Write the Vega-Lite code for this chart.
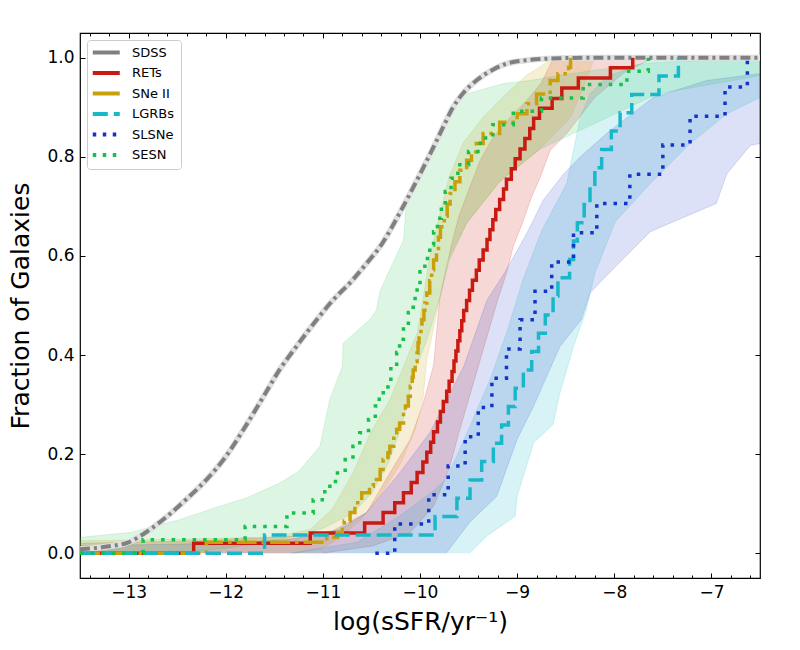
{
  "$schema": "https://vega.github.io/schema/vega-lite/v6.json",
  "width": 680,
  "height": 545,
  "autosize": {"type": "none"},
  "padding": {"left": 80, "top": 33, "right": 40, "bottom": 72},
  "config": {
    "font": "DejaVu Sans",
    "view": {"stroke": "black", "strokeWidth": 1.2},
    "axis": {
      "labelFont": "DejaVu Sans", "labelFontSize": 17, "labelColor": "black",
      "titleFont": "DejaVu Sans", "titleFontSize": 25, "titleFontWeight": "normal", "titleColor": "black",
      "tickColor": "black", "tickWidth": 1, "grid": false, "domain": false
    },
    "legend": {
      "orient": "top-left", "offset": 7, "padding": 6,
      "strokeColor": "#cccccc", "fillColor": "white", "cornerRadius": 3,
      "labelFont": "DejaVu Sans", "labelFontSize": 13, "labelColor": "black",
      "symbolType": "M-1.5,0H4.5", "symbolSize": 81, "symbolStrokeWidth": 4,
      "rowPadding": 3.5, "labelOffset": 26
    }
  },
  "datasets": {
    "curves": [
      {"series": "SDSS", "x": -13.5, "y": 0.008}, {"series": "SDSS", "x": -13.2, "y": 0.014},
      {"series": "SDSS", "x": -13.0, "y": 0.022}, {"series": "SDSS", "x": -12.8, "y": 0.045},
      {"series": "SDSS", "x": -12.6, "y": 0.075}, {"series": "SDSS", "x": -12.4, "y": 0.11},
      {"series": "SDSS", "x": -12.2, "y": 0.148}, {"series": "SDSS", "x": -12.0, "y": 0.195},
      {"series": "SDSS", "x": -11.8, "y": 0.255}, {"series": "SDSS", "x": -11.6, "y": 0.32},
      {"series": "SDSS", "x": -11.44, "y": 0.372}, {"series": "SDSS", "x": -11.3, "y": 0.41},
      {"series": "SDSS", "x": -11.1, "y": 0.462}, {"series": "SDSS", "x": -10.9, "y": 0.51},
      {"series": "SDSS", "x": -10.7, "y": 0.55}, {"series": "SDSS", "x": -10.55, "y": 0.585},
      {"series": "SDSS", "x": -10.4, "y": 0.622}, {"series": "SDSS", "x": -10.2, "y": 0.69},
      {"series": "SDSS", "x": -10.0, "y": 0.765}, {"series": "SDSS", "x": -9.86, "y": 0.82},
      {"series": "SDSS", "x": -9.75, "y": 0.865}, {"series": "SDSS", "x": -9.66, "y": 0.9},
      {"series": "SDSS", "x": -9.55, "y": 0.93}, {"series": "SDSS", "x": -9.42, "y": 0.954},
      {"series": "SDSS", "x": -9.25, "y": 0.976}, {"series": "SDSS", "x": -9.11, "y": 0.988},
      {"series": "SDSS", "x": -8.9, "y": 0.995}, {"series": "SDSS", "x": -8.7, "y": 0.998},
      {"series": "SDSS", "x": -8.3, "y": 1.0}, {"series": "SDSS", "x": -6.5, "y": 1.0},

      {"series": "RETs", "x": -13.5, "y": 0}, {"series": "RETs", "x": -12.33, "y": 0.020},
      {"series": "RETs", "x": -11.13, "y": 0.041}, {"series": "RETs", "x": -10.57, "y": 0.061},
      {"series": "RETs", "x": -10.38, "y": 0.082}, {"series": "RETs", "x": -10.26, "y": 0.102},
      {"series": "RETs", "x": -10.17, "y": 0.122}, {"series": "RETs", "x": -10.09, "y": 0.143},
      {"series": "RETs", "x": -10.03, "y": 0.163}, {"series": "RETs", "x": -9.97, "y": 0.184},
      {"series": "RETs", "x": -9.93, "y": 0.204}, {"series": "RETs", "x": -9.89, "y": 0.224},
      {"series": "RETs", "x": -9.86, "y": 0.245}, {"series": "RETs", "x": -9.82, "y": 0.265},
      {"series": "RETs", "x": -9.79, "y": 0.286}, {"series": "RETs", "x": -9.76, "y": 0.306},
      {"series": "RETs", "x": -9.725, "y": 0.327}, {"series": "RETs", "x": -9.7, "y": 0.347},
      {"series": "RETs", "x": -9.67, "y": 0.367}, {"series": "RETs", "x": -9.65, "y": 0.388},
      {"series": "RETs", "x": -9.63, "y": 0.408}, {"series": "RETs", "x": -9.61, "y": 0.429},
      {"series": "RETs", "x": -9.59, "y": 0.449}, {"series": "RETs", "x": -9.57, "y": 0.469},
      {"series": "RETs", "x": -9.55, "y": 0.49}, {"series": "RETs", "x": -9.52, "y": 0.51},
      {"series": "RETs", "x": -9.49, "y": 0.531}, {"series": "RETs", "x": -9.46, "y": 0.551},
      {"series": "RETs", "x": -9.42, "y": 0.571}, {"series": "RETs", "x": -9.39, "y": 0.592},
      {"series": "RETs", "x": -9.35, "y": 0.612}, {"series": "RETs", "x": -9.31, "y": 0.633},
      {"series": "RETs", "x": -9.28, "y": 0.653}, {"series": "RETs", "x": -9.25, "y": 0.673},
      {"series": "RETs", "x": -9.22, "y": 0.694}, {"series": "RETs", "x": -9.18, "y": 0.714},
      {"series": "RETs", "x": -9.14, "y": 0.735}, {"series": "RETs", "x": -9.11, "y": 0.755},
      {"series": "RETs", "x": -9.06, "y": 0.776}, {"series": "RETs", "x": -9.02, "y": 0.796},
      {"series": "RETs", "x": -8.97, "y": 0.816}, {"series": "RETs", "x": -8.92, "y": 0.837},
      {"series": "RETs", "x": -8.87, "y": 0.857}, {"series": "RETs", "x": -8.83, "y": 0.878},
      {"series": "RETs", "x": -8.77, "y": 0.898}, {"series": "RETs", "x": -8.64, "y": 0.918},
      {"series": "RETs", "x": -8.54, "y": 0.939}, {"series": "RETs", "x": -8.37, "y": 0.959},
      {"series": "RETs", "x": -8.04, "y": 0.98}, {"series": "RETs", "x": -7.81, "y": 1.0},

      {"series": "SNe II", "x": -13.5, "y": 0}, {"series": "SNe II", "x": -12.2, "y": 0.022},
      {"series": "SNe II", "x": -10.96, "y": 0.032}, {"series": "SNe II", "x": -10.85, "y": 0.042},
      {"series": "SNe II", "x": -10.8, "y": 0.055}, {"series": "SNe II", "x": -10.78, "y": 0.065},
      {"series": "SNe II", "x": -10.72, "y": 0.082}, {"series": "SNe II", "x": -10.67, "y": 0.102},
      {"series": "SNe II", "x": -10.6, "y": 0.122}, {"series": "SNe II", "x": -10.52, "y": 0.135},
      {"series": "SNe II", "x": -10.48, "y": 0.149}, {"series": "SNe II", "x": -10.41, "y": 0.169},
      {"series": "SNe II", "x": -10.38, "y": 0.189}, {"series": "SNe II", "x": -10.33, "y": 0.203},
      {"series": "SNe II", "x": -10.31, "y": 0.216}, {"series": "SNe II", "x": -10.27, "y": 0.236},
      {"series": "SNe II", "x": -10.24, "y": 0.25}, {"series": "SNe II", "x": -10.21, "y": 0.263},
      {"series": "SNe II", "x": -10.17, "y": 0.28}, {"series": "SNe II", "x": -10.15, "y": 0.297},
      {"series": "SNe II", "x": -10.12, "y": 0.317}, {"series": "SNe II", "x": -10.1, "y": 0.337},
      {"series": "SNe II", "x": -10.08, "y": 0.355}, {"series": "SNe II", "x": -10.07, "y": 0.37},
      {"series": "SNe II", "x": -10.05, "y": 0.387}, {"series": "SNe II", "x": -10.03, "y": 0.404},
      {"series": "SNe II", "x": -10.02, "y": 0.425}, {"series": "SNe II", "x": -10.01, "y": 0.444},
      {"series": "SNe II", "x": -9.99, "y": 0.458}, {"series": "SNe II", "x": -9.98, "y": 0.471},
      {"series": "SNe II", "x": -9.96, "y": 0.49}, {"series": "SNe II", "x": -9.95, "y": 0.505},
      {"series": "SNe II", "x": -9.93, "y": 0.525}, {"series": "SNe II", "x": -9.9, "y": 0.55},
      {"series": "SNe II", "x": -9.88, "y": 0.572}, {"series": "SNe II", "x": -9.86, "y": 0.592},
      {"series": "SNe II", "x": -9.83, "y": 0.615}, {"series": "SNe II", "x": -9.81, "y": 0.638},
      {"series": "SNe II", "x": -9.79, "y": 0.659}, {"series": "SNe II", "x": -9.75, "y": 0.68},
      {"series": "SNe II", "x": -9.72, "y": 0.705}, {"series": "SNe II", "x": -9.69, "y": 0.726},
      {"series": "SNe II", "x": -9.64, "y": 0.75}, {"series": "SNe II", "x": -9.59, "y": 0.773},
      {"series": "SNe II", "x": -9.52, "y": 0.793}, {"series": "SNe II", "x": -9.47, "y": 0.81},
      {"series": "SNe II", "x": -9.42, "y": 0.827}, {"series": "SNe II", "x": -9.35, "y": 0.847},
      {"series": "SNe II", "x": -9.18, "y": 0.87}, {"series": "SNe II", "x": -9.0, "y": 0.887},
      {"series": "SNe II", "x": -8.9, "y": 0.907}, {"series": "SNe II", "x": -8.8, "y": 0.927},
      {"series": "SNe II", "x": -8.66, "y": 0.954}, {"series": "SNe II", "x": -8.58, "y": 0.968},
      {"series": "SNe II", "x": -8.47, "y": 0.981}, {"series": "SNe II", "x": -8.45, "y": 1.0},

      {"series": "LGRBs", "x": -13.5, "y": 0}, {"series": "LGRBs", "x": -11.6, "y": 0.037},
      {"series": "LGRBs", "x": -9.845, "y": 0.074}, {"series": "LGRBs", "x": -9.62, "y": 0.111},
      {"series": "LGRBs", "x": -9.485, "y": 0.148}, {"series": "LGRBs", "x": -9.365, "y": 0.185},
      {"series": "LGRBs", "x": -9.245, "y": 0.222}, {"series": "LGRBs", "x": -9.16, "y": 0.259},
      {"series": "LGRBs", "x": -9.09, "y": 0.296}, {"series": "LGRBs", "x": -9.02, "y": 0.333},
      {"series": "LGRBs", "x": -8.936, "y": 0.37}, {"series": "LGRBs", "x": -8.85, "y": 0.407},
      {"series": "LGRBs", "x": -8.78, "y": 0.444}, {"series": "LGRBs", "x": -8.71, "y": 0.481},
      {"series": "LGRBs", "x": -8.63, "y": 0.519}, {"series": "LGRBs", "x": -8.58, "y": 0.556},
      {"series": "LGRBs", "x": -8.46, "y": 0.593}, {"series": "LGRBs", "x": -8.42, "y": 0.63},
      {"series": "LGRBs", "x": -8.38, "y": 0.667}, {"series": "LGRBs", "x": -8.31, "y": 0.704},
      {"series": "LGRBs", "x": -8.25, "y": 0.741}, {"series": "LGRBs", "x": -8.2, "y": 0.778},
      {"series": "LGRBs", "x": -8.13, "y": 0.815}, {"series": "LGRBs", "x": -8.03, "y": 0.852},
      {"series": "LGRBs", "x": -7.94, "y": 0.889}, {"series": "LGRBs", "x": -7.82, "y": 0.926},
      {"series": "LGRBs", "x": -7.54, "y": 0.963}, {"series": "LGRBs", "x": -7.34, "y": 1.0},

      {"series": "SLSNe", "x": -10.46, "y": 0}, {"series": "SLSNe", "x": -10.26, "y": 0.059},
      {"series": "SLSNe", "x": -9.91, "y": 0.118}, {"series": "SLSNe", "x": -9.71, "y": 0.176},
      {"series": "SLSNe", "x": -9.535, "y": 0.235}, {"series": "SLSNe", "x": -9.4, "y": 0.294},
      {"series": "SLSNe", "x": -9.26, "y": 0.353}, {"series": "SLSNe", "x": -9.11, "y": 0.412},
      {"series": "SLSNe", "x": -8.97, "y": 0.471}, {"series": "SLSNe", "x": -8.816, "y": 0.529},
      {"series": "SLSNe", "x": -8.644, "y": 0.588}, {"series": "SLSNe", "x": -8.42, "y": 0.647},
      {"series": "SLSNe", "x": -8.18, "y": 0.706}, {"series": "SLSNe", "x": -7.84, "y": 0.765},
      {"series": "SLSNe", "x": -7.5, "y": 0.824}, {"series": "SLSNe", "x": -7.22, "y": 0.882},
      {"series": "SLSNe", "x": -6.86, "y": 0.941}, {"series": "SLSNe", "x": -6.63, "y": 1.0},

      {"series": "SESN", "x": -13.5, "y": 0}, {"series": "SESN", "x": -12.85, "y": 0.027},
      {"series": "SESN", "x": -11.8, "y": 0.054}, {"series": "SESN", "x": -11.37, "y": 0.081},
      {"series": "SESN", "x": -11.1, "y": 0.108}, {"series": "SESN", "x": -10.98, "y": 0.135},
      {"series": "SESN", "x": -10.87, "y": 0.162}, {"series": "SESN", "x": -10.77, "y": 0.189},
      {"series": "SESN", "x": -10.69, "y": 0.216}, {"series": "SESN", "x": -10.62, "y": 0.243},
      {"series": "SESN", "x": -10.53, "y": 0.27}, {"series": "SESN", "x": -10.46, "y": 0.297},
      {"series": "SESN", "x": -10.42, "y": 0.324}, {"series": "SESN", "x": -10.33, "y": 0.351},
      {"series": "SESN", "x": -10.3, "y": 0.378}, {"series": "SESN", "x": -10.24, "y": 0.405},
      {"series": "SESN", "x": -10.21, "y": 0.432}, {"series": "SESN", "x": -10.17, "y": 0.459},
      {"series": "SESN", "x": -10.12, "y": 0.486}, {"series": "SESN", "x": -10.07, "y": 0.514},
      {"series": "SESN", "x": -10.03, "y": 0.541}, {"series": "SESN", "x": -10.0, "y": 0.568},
      {"series": "SESN", "x": -9.95, "y": 0.595}, {"series": "SESN", "x": -9.9, "y": 0.622},
      {"series": "SESN", "x": -9.86, "y": 0.649}, {"series": "SESN", "x": -9.82, "y": 0.676},
      {"series": "SESN", "x": -9.78, "y": 0.703}, {"series": "SESN", "x": -9.74, "y": 0.73},
      {"series": "SESN", "x": -9.68, "y": 0.757}, {"series": "SESN", "x": -9.61, "y": 0.784},
      {"series": "SESN", "x": -9.5, "y": 0.811}, {"series": "SESN", "x": -9.38, "y": 0.838},
      {"series": "SESN", "x": -9.25, "y": 0.865}, {"series": "SESN", "x": -9.04, "y": 0.892},
      {"series": "SESN", "x": -8.75, "y": 0.919}, {"series": "SESN", "x": -8.32, "y": 0.946},
      {"series": "SESN", "x": -7.87, "y": 0.973}, {"series": "SESN", "x": -7.65, "y": 1.0}
    ],
    "bands": [
      {"series": "RETs", "x": -13.5, "y": 0.0}, {"series": "RETs", "x": -13.5, "y": 0.02},
      {"series": "RETs", "x": -12.3, "y": 0.025}, {"series": "RETs", "x": -11.2, "y": 0.035},
      {"series": "RETs", "x": -10.82, "y": 0.048}, {"series": "RETs", "x": -10.55, "y": 0.082},
      {"series": "RETs", "x": -10.31, "y": 0.162}, {"series": "RETs", "x": -10.1, "y": 0.23},
      {"series": "RETs", "x": -9.97, "y": 0.3}, {"series": "RETs", "x": -9.86, "y": 0.38},
      {"series": "RETs", "x": -9.8, "y": 0.51}, {"series": "RETs", "x": -9.68, "y": 0.62},
      {"series": "RETs", "x": -9.6, "y": 0.68}, {"series": "RETs", "x": -9.485, "y": 0.74},
      {"series": "RETs", "x": -9.38, "y": 0.793}, {"series": "RETs", "x": -9.245, "y": 0.84},
      {"series": "RETs", "x": -9.07, "y": 0.88}, {"series": "RETs", "x": -8.9, "y": 0.914},
      {"series": "RETs", "x": -8.75, "y": 0.95}, {"series": "RETs", "x": -8.65, "y": 0.99},
      {"series": "RETs", "x": -8.6, "y": 1.0}, {"series": "RETs", "x": -7.6, "y": 1.0},
      {"series": "RETs", "x": -7.9, "y": 0.97}, {"series": "RETs", "x": -8.2, "y": 0.92},
      {"series": "RETs", "x": -8.49, "y": 0.847}, {"series": "RETs", "x": -8.66, "y": 0.813},
      {"series": "RETs", "x": -8.76, "y": 0.76}, {"series": "RETs", "x": -8.85, "y": 0.72},
      {"series": "RETs", "x": -8.935, "y": 0.672}, {"series": "RETs", "x": -9.04, "y": 0.619},
      {"series": "RETs", "x": -9.11, "y": 0.565}, {"series": "RETs", "x": -9.2, "y": 0.511},
      {"series": "RETs", "x": -9.3, "y": 0.444}, {"series": "RETs", "x": -9.4, "y": 0.377},
      {"series": "RETs", "x": -9.5, "y": 0.31}, {"series": "RETs", "x": -9.6, "y": 0.243},
      {"series": "RETs", "x": -9.7, "y": 0.17}, {"series": "RETs", "x": -9.86, "y": 0.095},
      {"series": "RETs", "x": -10.1, "y": 0.042}, {"series": "RETs", "x": -10.48, "y": 0.015},
      {"series": "RETs", "x": -11.0, "y": 0.0},

      {"series": "SNe II", "x": -13.5, "y": 0.0}, {"series": "SNe II", "x": -13.5, "y": 0.025},
      {"series": "SNe II", "x": -12.5, "y": 0.028}, {"series": "SNe II", "x": -11.5, "y": 0.033},
      {"series": "SNe II", "x": -11.13, "y": 0.048}, {"series": "SNe II", "x": -10.9, "y": 0.09},
      {"series": "SNe II", "x": -10.69, "y": 0.162}, {"series": "SNe II", "x": -10.51, "y": 0.243},
      {"series": "SNe II", "x": -10.31, "y": 0.31}, {"series": "SNe II", "x": -10.17, "y": 0.377},
      {"series": "SNe II", "x": -10.03, "y": 0.444}, {"series": "SNe II", "x": -9.97, "y": 0.511},
      {"series": "SNe II", "x": -9.9, "y": 0.6}, {"series": "SNe II", "x": -9.8, "y": 0.68},
      {"series": "SNe II", "x": -9.7, "y": 0.76}, {"series": "SNe II", "x": -9.55, "y": 0.83},
      {"series": "SNe II", "x": -9.35, "y": 0.88}, {"series": "SNe II", "x": -9.1, "y": 0.93},
      {"series": "SNe II", "x": -8.9, "y": 0.965}, {"series": "SNe II", "x": -8.7, "y": 0.99},
      {"series": "SNe II", "x": -8.5, "y": 1.0}, {"series": "SNe II", "x": -8.2, "y": 1.0},
      {"series": "SNe II", "x": -8.3, "y": 0.95}, {"series": "SNe II", "x": -8.45, "y": 0.88},
      {"series": "SNe II", "x": -8.77, "y": 0.815}, {"series": "SNe II", "x": -9.18, "y": 0.75},
      {"series": "SNe II", "x": -9.52, "y": 0.666}, {"series": "SNe II", "x": -9.72, "y": 0.59},
      {"series": "SNe II", "x": -9.8, "y": 0.51}, {"series": "SNe II", "x": -9.93, "y": 0.39},
      {"series": "SNe II", "x": -9.97, "y": 0.31}, {"series": "SNe II", "x": -10.05, "y": 0.25},
      {"series": "SNe II", "x": -10.2, "y": 0.18}, {"series": "SNe II", "x": -10.4, "y": 0.12},
      {"series": "SNe II", "x": -10.6, "y": 0.07}, {"series": "SNe II", "x": -10.8, "y": 0.035},
      {"series": "SNe II", "x": -11.0, "y": 0.01}, {"series": "SNe II", "x": -11.3, "y": 0.0},

      {"series": "LGRBs", "x": -11.34, "y": 0.0}, {"series": "LGRBs", "x": -10.65, "y": 0.022},
      {"series": "LGRBs", "x": -10.21, "y": 0.075}, {"series": "LGRBs", "x": -9.9, "y": 0.12},
      {"series": "LGRBs", "x": -9.73, "y": 0.149}, {"series": "LGRBs", "x": -9.5, "y": 0.25},
      {"series": "LGRBs", "x": -9.28, "y": 0.35}, {"series": "LGRBs", "x": -9.1, "y": 0.45},
      {"series": "LGRBs", "x": -8.94, "y": 0.552}, {"series": "LGRBs", "x": -8.75, "y": 0.65},
      {"series": "LGRBs", "x": -8.49, "y": 0.746}, {"series": "LGRBs", "x": -8.42, "y": 0.813},
      {"series": "LGRBs", "x": -8.35, "y": 0.88}, {"series": "LGRBs", "x": -8.25, "y": 0.927},
      {"series": "LGRBs", "x": -8.08, "y": 0.961}, {"series": "LGRBs", "x": -7.63, "y": 0.995},
      {"series": "LGRBs", "x": -7.5, "y": 1.0}, {"series": "LGRBs", "x": -6.5, "y": 1.0},
      {"series": "LGRBs", "x": -6.5, "y": 0.92}, {"series": "LGRBs", "x": -6.84, "y": 0.887},
      {"series": "LGRBs", "x": -7.22, "y": 0.827}, {"series": "LGRBs", "x": -7.63, "y": 0.746},
      {"series": "LGRBs", "x": -7.99, "y": 0.669}, {"series": "LGRBs", "x": -8.2, "y": 0.565},
      {"series": "LGRBs", "x": -8.29, "y": 0.49}, {"series": "LGRBs", "x": -8.42, "y": 0.417},
      {"series": "LGRBs", "x": -8.56, "y": 0.323}, {"series": "LGRBs", "x": -8.63, "y": 0.26},
      {"series": "LGRBs", "x": -8.83, "y": 0.223}, {"series": "LGRBs", "x": -9.0, "y": 0.115},
      {"series": "LGRBs", "x": -9.02, "y": 0.075}, {"series": "LGRBs", "x": -9.31, "y": 0.035},
      {"series": "LGRBs", "x": -9.49, "y": 0.0},

      {"series": "SLSNe", "x": -13.5, "y": 0.0}, {"series": "SLSNe", "x": -13.5, "y": 0.015},
      {"series": "SLSNe", "x": -12.0, "y": 0.02}, {"series": "SLSNe", "x": -11.34, "y": 0.028},
      {"series": "SLSNe", "x": -10.93, "y": 0.042}, {"series": "SLSNe", "x": -10.55, "y": 0.082},
      {"series": "SLSNe", "x": -10.21, "y": 0.162}, {"series": "SLSNe", "x": -9.9, "y": 0.243},
      {"series": "SLSNe", "x": -9.55, "y": 0.377}, {"series": "SLSNe", "x": -9.31, "y": 0.511},
      {"series": "SLSNe", "x": -9.11, "y": 0.572}, {"series": "SLSNe", "x": -8.9, "y": 0.646},
      {"series": "SLSNe", "x": -8.73, "y": 0.713}, {"series": "SLSNe", "x": -8.52, "y": 0.766},
      {"series": "SLSNe", "x": -8.35, "y": 0.8}, {"series": "SLSNe", "x": -8.08, "y": 0.847},
      {"series": "SLSNe", "x": -7.6, "y": 0.92}, {"series": "SLSNe", "x": -7.05, "y": 0.954},
      {"series": "SLSNe", "x": -6.5, "y": 0.968}, {"series": "SLSNe", "x": -6.5, "y": 0.827},
      {"series": "SLSNe", "x": -6.6, "y": 0.823}, {"series": "SLSNe", "x": -6.84, "y": 0.766},
      {"series": "SLSNe", "x": -6.95, "y": 0.706}, {"series": "SLSNe", "x": -7.63, "y": 0.649},
      {"series": "SLSNe", "x": -8.08, "y": 0.56}, {"series": "SLSNe", "x": -8.25, "y": 0.525},
      {"series": "SLSNe", "x": -8.34, "y": 0.471}, {"series": "SLSNe", "x": -8.56, "y": 0.417},
      {"series": "SLSNe", "x": -8.83, "y": 0.297}, {"series": "SLSNe", "x": -9.0, "y": 0.23},
      {"series": "SLSNe", "x": -9.21, "y": 0.115}, {"series": "SLSNe", "x": -9.49, "y": 0.062},
      {"series": "SLSNe", "x": -9.73, "y": 0.0},

      {"series": "SESN", "x": -13.5, "y": 0.0}, {"series": "SESN", "x": -13.5, "y": 0.032},
      {"series": "SESN", "x": -12.98, "y": 0.042}, {"series": "SESN", "x": -12.47, "y": 0.068},
      {"series": "SESN", "x": -12.06, "y": 0.095}, {"series": "SESN", "x": -11.78, "y": 0.112},
      {"series": "SESN", "x": -11.44, "y": 0.142}, {"series": "SESN", "x": -11.25, "y": 0.165},
      {"series": "SESN", "x": -11.03, "y": 0.216}, {"series": "SESN", "x": -10.93, "y": 0.31},
      {"series": "SESN", "x": -10.8, "y": 0.377}, {"series": "SESN", "x": -10.79, "y": 0.424},
      {"series": "SESN", "x": -10.52, "y": 0.471}, {"series": "SESN", "x": -10.45, "y": 0.49},
      {"series": "SESN", "x": -10.41, "y": 0.53}, {"series": "SESN", "x": -10.17, "y": 0.632},
      {"series": "SESN", "x": -10.14, "y": 0.706}, {"series": "SESN", "x": -10.0, "y": 0.76},
      {"series": "SESN", "x": -9.79, "y": 0.847}, {"series": "SESN", "x": -9.62, "y": 0.907},
      {"series": "SESN", "x": -9.52, "y": 0.927}, {"series": "SESN", "x": -9.14, "y": 0.948},
      {"series": "SESN", "x": -8.87, "y": 0.954}, {"series": "SESN", "x": -8.66, "y": 0.961},
      {"series": "SESN", "x": -8.2, "y": 0.975}, {"series": "SESN", "x": -7.6, "y": 0.99},
      {"series": "SESN", "x": -6.5, "y": 1.0}, {"series": "SESN", "x": -6.5, "y": 0.964},
      {"series": "SESN", "x": -7.56, "y": 0.927}, {"series": "SESN", "x": -8.01, "y": 0.885},
      {"series": "SESN", "x": -8.39, "y": 0.85}, {"series": "SESN", "x": -8.77, "y": 0.815},
      {"series": "SESN", "x": -9.18, "y": 0.75}, {"series": "SESN", "x": -9.52, "y": 0.666},
      {"series": "SESN", "x": -9.7, "y": 0.59}, {"series": "SESN", "x": -9.82, "y": 0.5},
      {"series": "SESN", "x": -9.93, "y": 0.43}, {"series": "SESN", "x": -10.07, "y": 0.36},
      {"series": "SESN", "x": -10.12, "y": 0.31}, {"series": "SESN", "x": -10.2, "y": 0.25},
      {"series": "SESN", "x": -10.33, "y": 0.18}, {"series": "SESN", "x": -10.5, "y": 0.12},
      {"series": "SESN", "x": -10.7, "y": 0.08}, {"series": "SESN", "x": -11.0, "y": 0.05},
      {"series": "SESN", "x": -11.5, "y": 0.025}, {"series": "SESN", "x": -12.0, "y": 0.01},
      {"series": "SESN", "x": -12.5, "y": 0.0}
    ]
  },
  "resolve": {"axis": {"x": "independent", "y": "independent"}},
  "layer": [
    {
      "data": {"name": "bands"},
      "transform": [{"filter": "datum.series === 'RETs'"}],
      "mark": {"type": "line", "fill": "#c81a10", "fillOpacity": 0.17, "stroke": "#c81a10", "strokeOpacity": 0.17, "strokeWidth": 1, "clip": true},
      "encoding": {
        "x": {"field": "x", "type": "quantitative", "scale": {"domain": [-13.5, -6.5], "nice": false, "zero": false},
              "axis": {"orient": "top", "values": [-13, -12, -11, -10, -9, -8, -7], "labels": false, "tickSize": -5, "title": null}},
        "y": {"field": "y", "type": "quantitative", "scale": {"domain": [-0.05, 1.05], "nice": false, "zero": false}, "axis": null},
        "order": {"value": null}
      }
    },
    {
      "data": {"name": "bands"},
      "transform": [{"filter": "datum.series === 'SNe II'"}],
      "mark": {"type": "line", "fill": "#c9a00c", "fillOpacity": 0.17, "stroke": "#c9a00c", "strokeOpacity": 0.17, "strokeWidth": 1, "clip": true},
      "encoding": {
        "x": {"field": "x", "type": "quantitative",
              "axis": {"orient": "bottom", "values": [-13.4, -13.2, -12.8, -12.6, -12.4, -12.2, -11.8, -11.6, -11.4, -11.2, -10.8, -10.6, -10.4, -10.2, -9.8, -9.6, -9.4, -9.2, -8.8, -8.6, -8.4, -8.2, -7.8, -7.6, -7.4, -7.2, -6.8, -6.6], "labels": false, "tickSize": -3, "title": null}},
        "y": {"field": "y", "type": "quantitative",
              "axis": {"orient": "right", "values": [0, 0.2, 0.4, 0.6, 0.8, 1], "labels": false, "tickSize": -5, "title": null}},
        "order": {"value": null}
      }
    },
    {
      "data": {"name": "bands"},
      "transform": [{"filter": "datum.series === 'LGRBs'"}],
      "mark": {"type": "line", "fill": "#18b8c8", "fillOpacity": 0.17, "stroke": "#18b8c8", "strokeOpacity": 0.17, "strokeWidth": 1, "clip": true},
      "encoding": {
        "x": {"field": "x", "type": "quantitative",
              "axis": {"orient": "top", "values": [-13.4, -13.2, -12.8, -12.6, -12.4, -12.2, -11.8, -11.6, -11.4, -11.2, -10.8, -10.6, -10.4, -10.2, -9.8, -9.6, -9.4, -9.2, -8.8, -8.6, -8.4, -8.2, -7.8, -7.6, -7.4, -7.2, -6.8, -6.6], "labels": false, "tickSize": -3, "title": null}},
        "y": {"field": "y", "type": "quantitative", "axis": null},
        "order": {"value": null}
      }
    },
    {
      "data": {"name": "bands"},
      "transform": [{"filter": "datum.series === 'SLSNe'"}],
      "mark": {"type": "line", "fill": "#1234c8", "fillOpacity": 0.15, "stroke": "#1234c8", "strokeOpacity": 0.15, "strokeWidth": 1, "clip": true},
      "encoding": {
        "x": {"field": "x", "type": "quantitative", "axis": null},
        "y": {"field": "y", "type": "quantitative", "axis": null},
        "order": {"value": null}
      }
    },
    {
      "data": {"name": "bands"},
      "transform": [{"filter": "datum.series === 'SESN'"}],
      "mark": {"type": "line", "fill": "#18c048", "fillOpacity": 0.15, "stroke": "#18c048", "strokeOpacity": 0.15, "strokeWidth": 1, "clip": true},
      "encoding": {
        "x": {"field": "x", "type": "quantitative",
              "axis": {"orient": "bottom", "values": [-13, -12, -11, -10, -9, -8, -7], "format": "d", "tickSize": -5, "labelPadding": 11, "title": "log(sSFR/yr⁻¹)", "titlePadding": 9}},
        "y": {"field": "y", "type": "quantitative",
              "axis": {"orient": "left", "values": [0, 0.2, 0.4, 0.6, 0.8, 1], "format": ".1f", "tickSize": -5, "labelPadding": 11, "title": "Fraction of Galaxies", "titlePadding": 13}},
        "order": {"value": null}
      }
    },
    {
      "data": {"name": "curves"},
      "transform": [{"filter": "datum.series === 'SDSS'"}],
      "mark": {"type": "line", "stroke": "#e0e0e0", "strokeWidth": 6, "interpolate": "monotone", "clip": true},
      "encoding": {
        "x": {"field": "x", "type": "quantitative", "axis": null},
        "y": {"field": "y", "type": "quantitative", "axis": null}
      }
    },
    {
      "data": {"name": "curves"},
      "transform": [{"filter": "datum.series === 'SDSS'"}],
      "mark": {"type": "line", "strokeWidth": 4, "strokeDash": [10, 4, 3, 4], "interpolate": "monotone", "clip": true},
      "encoding": {
        "x": {"field": "x", "type": "quantitative", "axis": null},
        "y": {"field": "y", "type": "quantitative", "axis": null},
        "color": {
          "field": "series", "type": "nominal",
          "scale": {"domain": ["SDSS", "RETs", "SNe II", "LGRBs", "SLSNe", "SESN"], "range": ["#808080", "#c81a10", "#c9a00c", "#18b8c8", "#1234c8", "#18c048"]},
          "legend": {
            "title": null, "labelFontSize": 13,
            "encode": {"symbols": {"update": {"strokeDash": {"signal": "datum.value === 'LGRBs' ? [15, 6] : (datum.value === 'SLSNe' || datum.value === 'SESN') ? [3.5, 6.5] : [100, 0]"}, "strokeWidth": {"value": 4}}}}
          }
        }
      }
    },
    {
      "data": {"name": "curves"},
      "transform": [{"filter": "datum.series !== 'SDSS'"}],
      "mark": {"type": "line", "strokeWidth": 3.5, "interpolate": "step-after", "clip": true},
      "encoding": {
        "x": {"field": "x", "type": "quantitative", "axis": null},
        "y": {"field": "y", "type": "quantitative", "axis": null},
        "color": {
          "field": "series", "type": "nominal",
          "scale": {"domain": ["SDSS", "RETs", "SNe II", "LGRBs", "SLSNe", "SESN"], "range": ["#808080", "#c81a10", "#c9a00c", "#18b8c8", "#1234c8", "#18c048"]},
          "legend": {
            "title": null, "labelFontSize": 13,
            "encode": {"symbols": {"update": {"strokeDash": {"signal": "datum.value === 'LGRBs' ? [15, 6] : (datum.value === 'SLSNe' || datum.value === 'SESN') ? [3.5, 6.5] : [100, 0]"}, "strokeWidth": {"value": 4}}}}
          }
        },
        "strokeDash": {
          "field": "series", "type": "nominal",
          "scale": {"domain": ["RETs", "SNe II", "LGRBs", "SLSNe", "SESN"], "range": [[100, 0], [20, 5, 3.5, 5], [15, 6], [3.5, 7], [3.5, 7]]},
          "legend": null
        }
      }
    }
  ]
}
